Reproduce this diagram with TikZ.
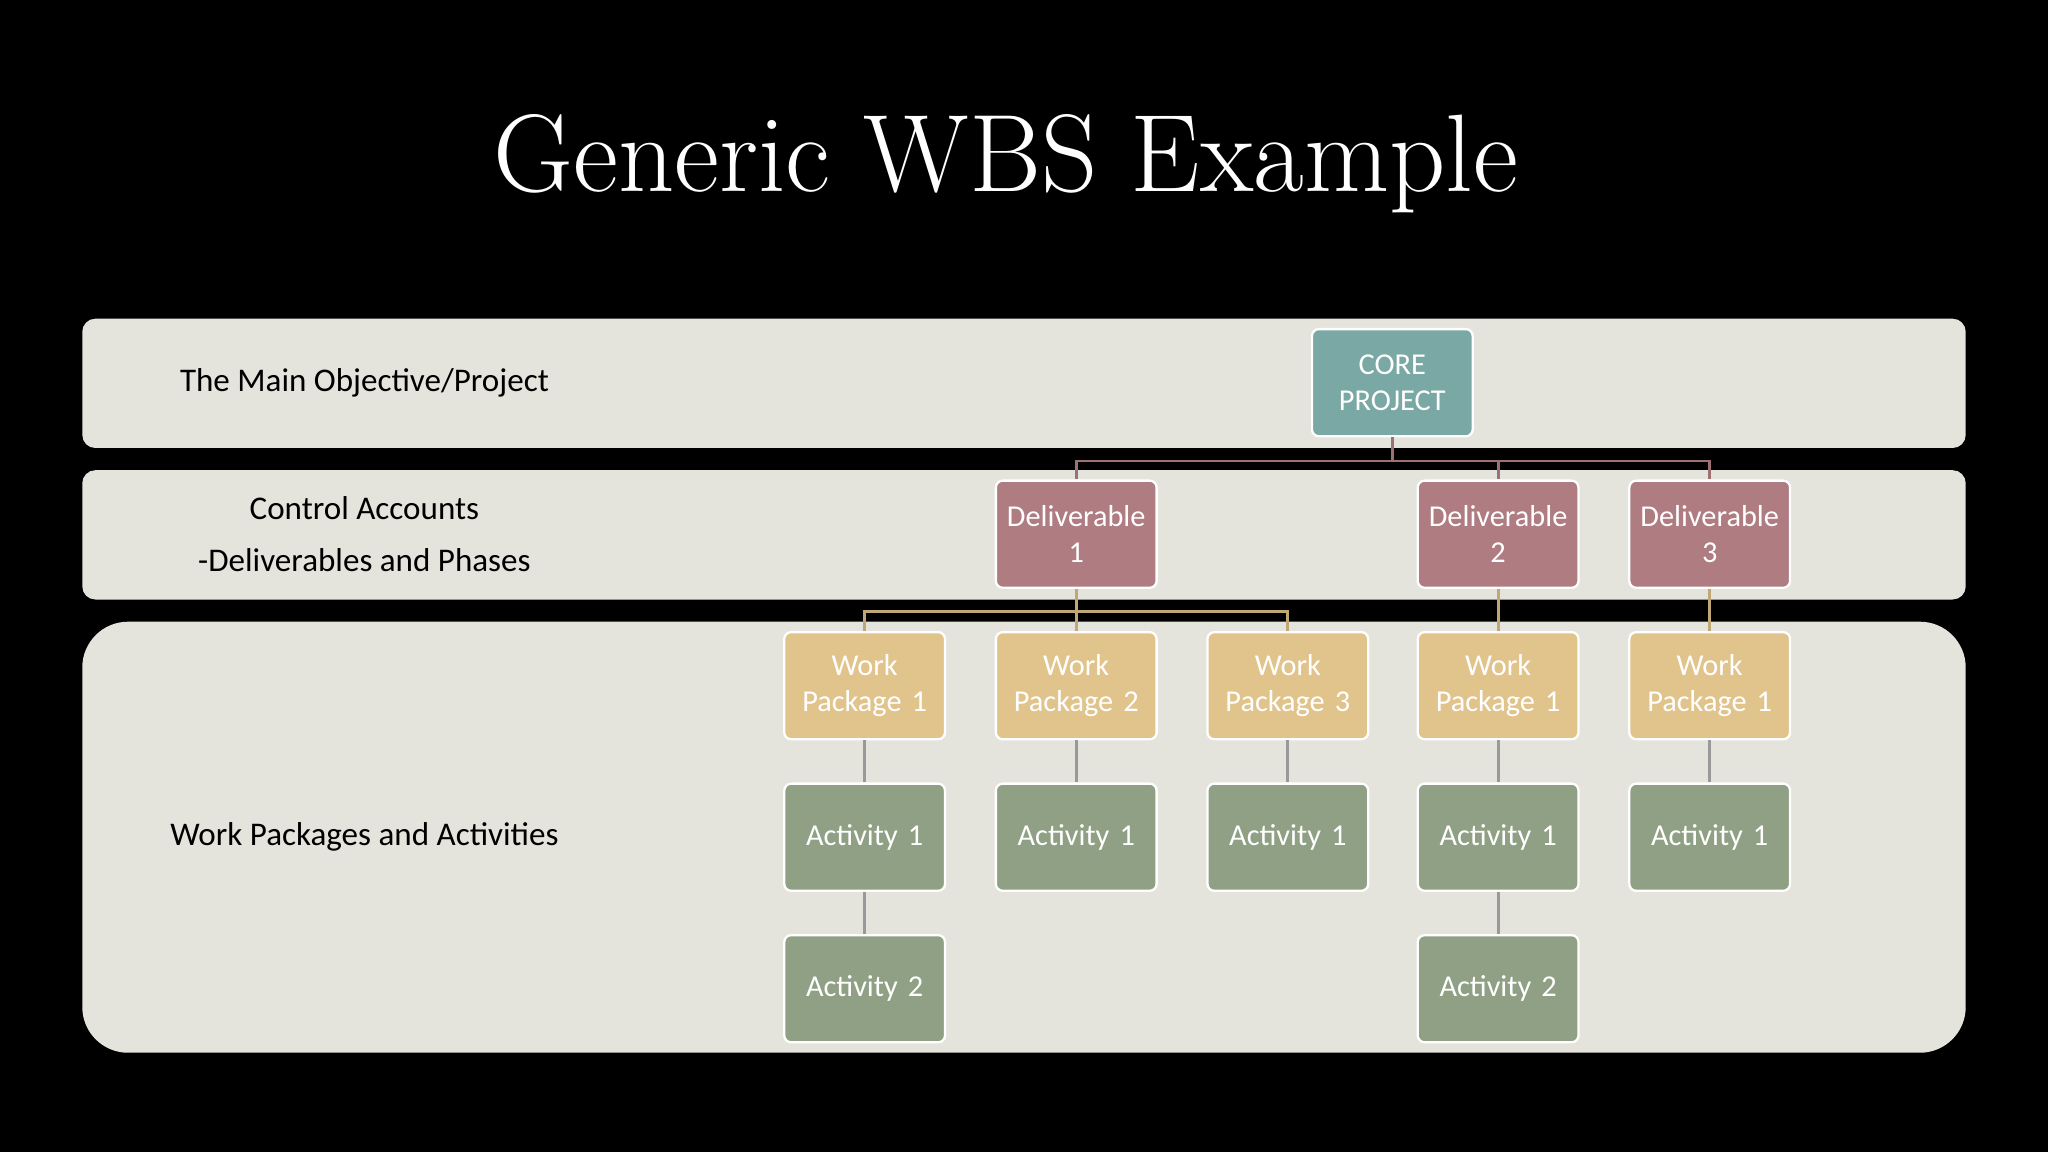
\documentclass[tikz,border=0pt]{standalone}
\usepackage{fontspec}
\newfontfamily\carl{Carlito}
\begin{document}
\begin{tikzpicture}[x=0.01cm,y=-0.01cm,
  band/.style={fill=bandc,draw=none},
  bx/.style={draw=white,line width=0.5pt,rounded corners=1.5pt,minimum width=1.23cm,minimum height=0.82cm,text width=1.2cm,align=center,inner sep=0pt,text=white,font=\carl\fontsize{6.6}{7.8}\selectfont},
  core/.style={bx,fill=corec},
  del/.style={bx,fill=delc},
  wp/.style={bx,fill=wpc},
  act/.style={bx,fill=actc},
  lab/.style={font=\carl\fontsize{7.2}{9}\selectfont,text=black},
  c1/.style={draw=delc!90!black,line width=0.6pt},
  c2/.style={draw=wpc!85!black,line width=0.6pt},
  c3/.style={draw=gray!80,line width=0.6pt}]
\definecolor{bandc}{HTML}{E4E3DC}
\definecolor{corec}{HTML}{7AA8A5}
\definecolor{delc}{HTML}{AE7C81}
\definecolor{wpc}{HTML}{E1C48B}
\definecolor{actc}{HTML}{8FA084}
\fill[black] (0,0) rectangle (1568,882);
\node[text=white,font=\fontsize{24}{28}\selectfont] (title) at (770,125) {Generic WBS Example};
\fill[band,rounded corners=0.1cm] (63,244) rectangle (1505,343);
\fill[band,rounded corners=0.1cm] (63,360) rectangle (1505,459);
\fill[band,rounded corners=0.35cm] (63,476) rectangle (1505,806);
\node[lab] (l1) at (279,293) {The Main Objective/Project};
\node[lab] (l2) at (279,389) {Control Accounts};
\node[lab] (l3) at (279,429) {-Deliverables and Phases};
\node[lab] (l4) at (279,641) {Work Packages and Activities};
\node[core] (core) at (1066,293) {CORE PROJECT};
\node[del] (d1) at (824,409) {Deliverable 1};
\node[del] (d2) at (1147,409) {Deliverable 2};
\node[del] (d3) at (1309,409) {Deliverable 3};
\node[wp] (w1) at (662,525) {Work Package 1};
\node[wp] (w2) at (824,525) {Work Package 2};
\node[wp] (w3) at (986,525) {Work Package 3};
\node[wp] (w4) at (1147,525) {Work Package 1};
\node[wp] (w5) at (1309,525) {Work Package 1};
\node[act] (a1) at (662,641) {Activity 1};
\node[act] (a2) at (824,641) {Activity 1};
\node[act] (a3) at (986,641) {Activity 1};
\node[act] (a4) at (1147,641) {Activity 1};
\node[act] (a5) at (1309,641) {Activity 1};
\node[act] (b1) at (662,757) {Activity 2};
\node[act] (b4) at (1147,757) {Activity 2};
\foreach \d in {d1,d2,d3} \draw[c1] (core.south) -- ++(0,18) -| (\d.north);
\foreach \w in {w1,w2,w3} \draw[c2] (d1.south) -- ++(0,17) -| (\w.north);
\draw[c2] (d2) -- (w4);
\draw[c2] (d3) -- (w5);
\draw[c3] (w1)--(a1) (w2)--(a2) (w3)--(a3) (w4)--(a4) (w5)--(a5) (a1)--(b1) (a4)--(b4);
\end{tikzpicture}
\end{document}
